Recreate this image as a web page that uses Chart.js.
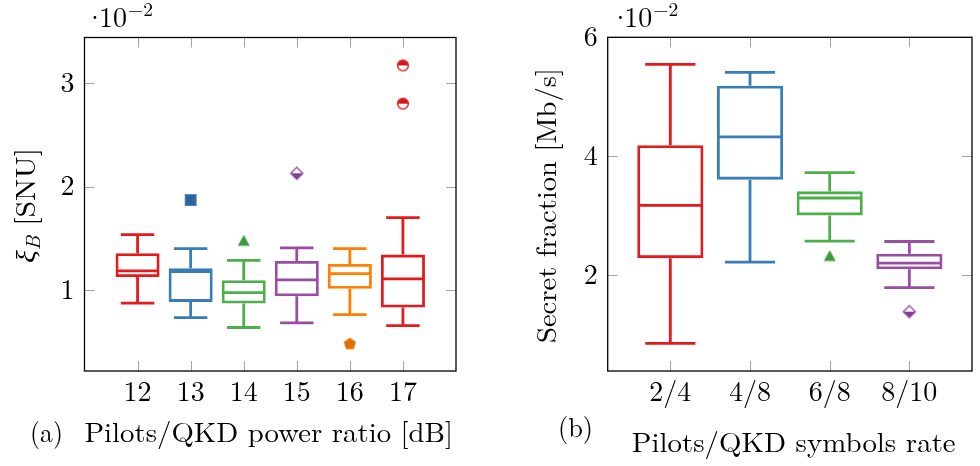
<!DOCTYPE html>
<html>
  <head>
    <title>Pilots / QKD box plots</title>
    <script src="https://cdn.jsdelivr.net/npm/chart.js"></script>
    <style>
      body {
        margin: 0;
        background: #fff;
      }
      .panel {
        position: absolute;
        top: 0px;
      }
    </style>
  </head>

  <body>
    <canvas id="ratioChart" class="panel" width="470" height="466" style="left: 0px"></canvas>
    <canvas id="rateChart" class="panel" width="490" height="466" style="left: 490px"></canvas>

    <script>
      // (a) xi_B vs pilots/QKD power ratio, values in units of 1e-2 SNU
      const powerRatios = [12, 13, 14, 15, 16, 17];
      const xiLow = [0.875, 0.736, 0.64, 0.685, 0.765, 0.659];
      const xiQ1 = [1.127, 0.887, 0.871, 0.942, 1.013, 0.833];
      const xiMedian = [1.186, 1.18, 0.977, 1.1, 1.161, 1.109];
      const xiQ3 = [1.357, 1.212, 1.096, 1.283, 1.254, 1.344];
      const xiHigh = [1.537, 1.402, 1.289, 1.408, 1.402, 1.701];
      const xiOutlierRatio = [13, 14, 15, 16, 17, 17];
      const xiOutlierValue = [1.871, 1.482, 2.129, 0.486, 3.17, 2.801];
      const xiTicks = [1, 2, 3];

      // (b) secret fraction vs pilots/QKD symbols rate, units of 1e-2 Mb/s
      const symbolRates = ["2/4", "4/8", "6/8", "8/10"];
      const sfLow = [0.854, 2.219, 2.573, 1.792];
      const sfQ1 = [2.287, 3.607, 3.006, 2.101];
      const sfMedian = [3.174, 4.326, 3.298, 2.202];
      const sfQ3 = [4.185, 5.185, 3.41, 2.36];
      const sfHigh = [5.545, 5.41, 3.725, 2.567];
      const sfOutlierRate = ["6/8", "8/10"];
      const sfOutlierValue = [2.331, 1.388];
      const sfTicks = [2, 4, 6];

      const RED = "#e41a1c";
      const BLUE = "#377eb8";
      const GREEN = "#4daf4a";
      const PURPLE = "#984ea3";
      const ORANGE = "#ff7f00";
      const SERIF = "'Latin Modern Roman', 'Liberation Serif', serif";

      // small canvases used as point styles for the outliers
      function marker(draw) {
        const c = document.createElement("canvas");
        c.width = 16;
        c.height = 16;
        draw(c.getContext("2d"));
        return c;
      }
      const squareMark = marker((g) => {
        g.fillStyle = "#2c6597";
        g.strokeStyle = "#5088bf";
        g.lineWidth = 1;
        g.fillRect(2, 2, 12, 12);
        g.strokeRect(2.5, 2.5, 11, 11);
      });
      const triangleMark = marker((g) => {
        g.fillStyle = "#3e9a3b";
        g.beginPath();
        g.moveTo(8, 2.5);
        g.lineTo(14, 13.5);
        g.lineTo(2, 13.5);
        g.closePath();
        g.fill();
      });
      const halfDiamondMark = marker((g) => {
        g.fillStyle = "#7f3f8a";
        g.beginPath();
        g.moveTo(1.5, 8);
        g.lineTo(14.5, 8);
        g.lineTo(8, 14);
        g.closePath();
        g.fill();
        g.strokeStyle = "#8d479a";
        g.lineWidth = 1.3;
        g.beginPath();
        g.moveTo(8, 2);
        g.lineTo(14, 8);
        g.lineTo(8, 14);
        g.lineTo(2, 8);
        g.closePath();
        g.stroke();
      });
      const pentagonMark = marker((g) => {
        g.fillStyle = "#e27000";
        g.beginPath();
        for (let k = 0; k < 5; k++) {
          const a = -Math.PI / 2 + (k * 2 * Math.PI) / 5;
          g.lineTo(8 + 6.4 * Math.cos(a), 8.6 + 6.4 * Math.sin(a));
        }
        g.closePath();
        g.fill();
      });
      const halfCircleMark = marker((g) => {
        g.fillStyle = "#fff";
        g.beginPath();
        g.arc(8, 8, 5.4, 0, 2 * Math.PI);
        g.fill();
        g.fillStyle = "#d8181b";
        g.beginPath();
        g.arc(8, 8, 5.4, Math.PI, 2 * Math.PI);
        g.closePath();
        g.fill();
        g.strokeStyle = "#e41a1c";
        g.lineWidth = 1.4;
        g.beginPath();
        g.arc(8, 8, 5.4, 0, 2 * Math.PI);
        g.stroke();
      });

      const big = "28px " + SERIF;
      const small = "19.5px " + SERIF;

      // text made of pieces (font, baseline shift), stretched to a width
      function drawParts(ctx, parts, x, y, width, opts = {}) {
        ctx.save();
        ctx.translate(x, y);
        if (opts.rotate) ctx.rotate(opts.rotate);
        let total = 0;
        parts.forEach((p) => {
          ctx.font = p.font;
          p.w = ctx.measureText(p.t).width;
          total += p.w;
        });
        ctx.scale(width / total, 1);
        let cx = opts.center ? -total / 2 : 0;
        ctx.fillStyle = "#000";
        ctx.textBaseline = "alphabetic";
        ctx.textAlign = "left";
        parts.forEach((p) => {
          ctx.font = p.font;
          ctx.fillText(p.t, cx, p.dy || 0);
          cx += p.w;
        });
        ctx.restore();
      }

      // the "·10^-2" multiplier over the y axis
      function drawExponent(ctx, x, y) {
        ctx.save();
        ctx.fillStyle = "#000";
        ctx.textBaseline = "alphabetic";
        ctx.font = big;
        ctx.textAlign = "center";
        ctx.fillText("·", x + 2, y);
        ctx.textAlign = "left";
        ctx.fillText("10", x + 6, y);
        const w = ctx.measureText("10").width;
        ctx.font = small;
        ctx.fillText("−2", x + 7 + w, y - 11);
        ctx.restore();
      }

      function boxPlugin(spec) {
        return {
          id: "boxExtras",
          beforeDatasetsDraw(chart) {
            const { ctx, chartArea: a, scales } = chart;
            const x = scales.x;
            const y = scales.y;
            ctx.save();
            // inward tick marks on all four sides
            ctx.strokeStyle = "#a3a3a3";
            ctx.lineWidth = 1;
            ctx.beginPath();
            x.ticks.forEach((t) => {
              const px = Math.round(x.getPixelForValue(t.value)) + 0.5;
              ctx.moveTo(px, a.top);
              ctx.lineTo(px, a.top + 10);
              ctx.moveTo(px, a.bottom);
              ctx.lineTo(px, a.bottom - 10);
            });
            y.ticks.forEach((t) => {
              const py = Math.round(y.getPixelForValue(t.value)) + 0.5;
              ctx.moveTo(a.left, py);
              ctx.lineTo(a.left + 10, py);
              ctx.moveTo(a.right, py);
              ctx.lineTo(a.right - 10, py);
            });
            ctx.stroke();
            ctx.restore();
          },
          afterDatasetsDraw(chart) {
            const { ctx, scales } = chart;
            const x = scales.x;
            const y = scales.y;
            const unit = Math.abs(x.getPixelForValue(1) - x.getPixelForValue(0));
            const bars = chart.getDatasetMeta(0).data;
            const lw = 2.8;
            ctx.save();
            ctx.lineWidth = lw;
            ctx.lineCap = "butt";
            spec.xs.forEach((xv, i) => {
              const px = x.getPixelForValue(xv);
              const cap = unit * 0.315;
              const bar = bars[i];
              ctx.strokeStyle = spec.colors[i];
              ctx.beginPath();
              // whiskers
              ctx.moveTo(px, y.getPixelForValue(spec.q3[i]));
              ctx.lineTo(px, y.getPixelForValue(spec.high[i]));
              ctx.moveTo(px, y.getPixelForValue(spec.q1[i]));
              ctx.lineTo(px, y.getPixelForValue(spec.low[i]));
              // caps
              ctx.moveTo(px - cap, y.getPixelForValue(spec.high[i]));
              ctx.lineTo(px + cap, y.getPixelForValue(spec.high[i]));
              ctx.moveTo(px - cap, y.getPixelForValue(spec.low[i]));
              ctx.lineTo(px + cap, y.getPixelForValue(spec.low[i]));
              // median
              const half = bar.width / 2 - lw / 2;
              ctx.moveTo(bar.x - half, y.getPixelForValue(spec.med[i]));
              ctx.lineTo(bar.x + half, y.getPixelForValue(spec.med[i]));
              ctx.stroke();
            });
            ctx.restore();
          },
          afterDraw(chart) {
            const { ctx, chartArea: a } = chart;
            ctx.save();
            ctx.strokeStyle = "#000";
            ctx.lineWidth = 1.3;
            ctx.strokeRect(a.left, a.top, a.right - a.left, a.bottom - a.top);
            ctx.restore();
            drawExponent(ctx, spec.expX, 27);
            spec.texts.forEach((t) => drawParts(ctx, t.parts, t.x, t.y, t.width, t));
          },
        };
      }

      function boxChart(id, spec) {
        const boxes = spec.xs.map((xv, i) => ({ x: xv, y: [spec.q1[i], spec.q3[i]] }));
        const outliers = spec.outX.map((xv, i) => ({ x: xv, y: spec.outY[i] }));
        return new Chart(document.getElementById(id), {
          type: "bar",
          data: {
            datasets: [
              {
                data: boxes,
                backgroundColor: "rgba(0,0,0,0)",
                borderColor: spec.colors,
                borderWidth: 2.8,
                borderSkipped: false,
                barPercentage: 0.83,
                categoryPercentage: 1,
              },
              {
                type: "scatter",
                data: outliers,
                pointStyle: spec.marks,
                pointRadius: 7,
                pointHoverRadius: 7,
              },
            ],
          },
          options: {
            responsive: false,
            animation: false,
            events: [],
            layout: { padding: spec.padding },
            plugins: { legend: { display: false }, tooltip: { enabled: false } },
            scales: {
              x: {
                type: "linear",
                offset: false,
                min: spec.xMin,
                max: spec.xMax,
                afterBuildTicks: (s) => {
                  s.ticks = spec.xs.map((v) => ({ value: v }));
                },
                afterFit: (s) => {
                  s.height = 95;
                },
                ticks: {
                  autoSkip: false,
                  maxRotation: 0,
                  padding: 5,
                  color: "#000",
                  font: { family: SERIF, size: 28 },
                  callback: (v, i) => spec.labels[i],
                },
                grid: { display: false, drawTicks: false },
                border: { display: false },
              },
              y: {
                min: spec.yMin,
                max: spec.yMax,
                afterBuildTicks: (s) => {
                  s.ticks = spec.yTicks.map((v) => ({ value: v }));
                },
                afterFit: (s) => {
                  s.width = spec.yWidth;
                },
                ticks: {
                  padding: 10,
                  color: "#000",
                  font: { family: SERIF, size: 28 },
                  callback: (v) => String(v),
                },
                grid: { display: false, drawTicks: false },
                border: { display: false },
              },
            },
          },
          plugins: [boxPlugin(spec)],
        });
      }

      boxChart("ratioChart", {
        xs: powerRatios,
        labels: powerRatios.map(String),
        low: xiLow,
        q1: xiQ1,
        med: xiMedian,
        q3: xiQ3,
        high: xiHigh,
        outX: xiOutlierRatio,
        outY: xiOutlierValue,
        colors: [RED, BLUE, GREEN, PURPLE, ORANGE, RED],
        marks: [squareMark, triangleMark, halfDiamondMark, pentagonMark, halfCircleMark, halfCircleMark],
        xMin: 11,
        xMax: 18,
        yMin: 0.22,
        yMax: 3.44,
        yTicks: xiTicks,
        yWidth: 84.5,
        padding: { top: 37.5, right: 14, left: 0, bottom: 0 },
        expX: 93,
        texts: [
          {
            parts: [
              { t: "ξ", font: "italic " + big },
              { t: "B", font: "italic " + small, dy: 5 },
              { t: " [SNU]", font: big },
            ],
            x: 35,
            y: 205.5,
            width: 115,
            rotate: -Math.PI / 2,
            center: true,
          },
          { parts: [{ t: "(a)", font: big }], x: 30, y: 442, width: 33 },
          { parts: [{ t: "Pilots/QKD power ratio [dB]", font: big }], x: 84.5, y: 442, width: 368.5 },
        ],
      });

      boxChart("rateChart", {
        xs: symbolRates.map((r, i) => i),
        labels: symbolRates,
        low: sfLow,
        q1: sfQ1,
        med: sfMedian,
        q3: sfQ3,
        high: sfHigh,
        outX: sfOutlierRate.map((r) => symbolRates.indexOf(r)),
        outY: sfOutlierValue,
        colors: [RED, BLUE, GREEN, PURPLE],
        marks: [triangleMark, halfDiamondMark],
        xMin: -0.786,
        xMax: 3.786,
        yMin: 0.39,
        yMax: 6,
        yTicks: sfTicks,
        yWidth: 117.7,
        padding: { top: 37.3, right: 1, left: 0, bottom: 0 },
        expX: 128.3,
        texts: [
          {
            parts: [{ t: "Secret fraction [Mb/s]", font: big }],
            x: 66,
            y: 205.5,
            width: 275,
            rotate: -Math.PI / 2,
            center: true,
          },
          { parts: [{ t: "(b)", font: big }], x: 68, y: 437, width: 35 },
          { parts: [{ t: "Pilots/QKD symbols rate", font: big }], x: 141.7, y: 452, width: 324 },
        ],
      });
    </script>
  </body>
</html>
